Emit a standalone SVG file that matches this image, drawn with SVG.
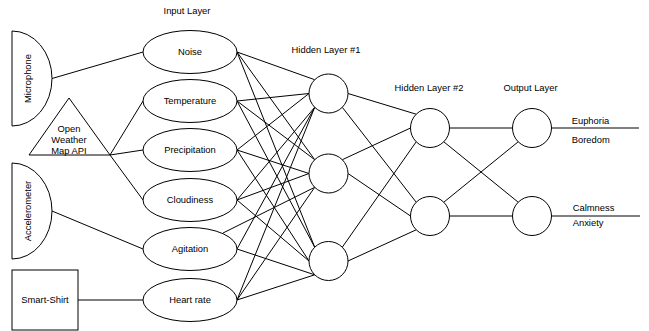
<svg xmlns="http://www.w3.org/2000/svg" width="649" height="331" viewBox="0 0 649 331">
<style>
.s{fill:#fff;stroke:#000;stroke-width:1}
.t{font-family:"Liberation Sans",Arial,sans-serif;font-size:9.4px;fill:#000;text-anchor:middle}
.l{font-family:"Liberation Sans",Arial,sans-serif;font-size:9.4px;fill:#000;text-anchor:start}
#edges line{stroke:#000;stroke-width:1}
</style>
<rect width="649" height="331" fill="#fff"/>
<g id="titles">
<text class="t" x="187" y="13.5">Input Layer</text>
<text class="t" x="326" y="52.5">Hidden Layer #1</text>
<text class="t" x="429" y="90.5">Hidden Layer #2</text>
<text class="t" x="530.5" y="90.5">Output Layer</text>
</g>
<g id="edges">
<line x1="52" y1="78.5" x2="143" y2="52"/>
<line x1="110" y1="155" x2="143" y2="101"/>
<line x1="110" y1="155" x2="143" y2="150"/>
<line x1="110" y1="155" x2="143" y2="200"/>
<line x1="52" y1="211" x2="143" y2="249"/>
<line x1="78" y1="300" x2="143" y2="300"/>
<!-- inputs to H1 c1 -->
<line x1="237" y1="52" x2="314.7" y2="79.7"/>
<line x1="237" y1="101" x2="309" y2="93.5"/>
<line x1="237" y1="150" x2="309" y2="93.5"/>
<line x1="237" y1="200" x2="314.7" y2="107.3"/>
<line x1="237" y1="249" x2="314.7" y2="107.3"/>
<line x1="237" y1="300" x2="314.7" y2="107.3"/>
<!-- inputs to H1 c2 -->
<line x1="237" y1="52" x2="314.7" y2="159.7"/>
<line x1="237" y1="101" x2="314.7" y2="159.7"/>
<line x1="237" y1="150" x2="309" y2="173.5"/>
<line x1="237" y1="200" x2="309" y2="173.5"/>
<line x1="223" y1="233" x2="314.7" y2="187.3"/>
<line x1="237" y1="300" x2="314.7" y2="187.3"/>
<!-- inputs to H1 c3 -->
<line x1="237" y1="52" x2="314.7" y2="247.2"/>
<line x1="237" y1="101" x2="314.7" y2="247.2"/>
<line x1="237" y1="150" x2="309" y2="261"/>
<line x1="237" y1="200" x2="309" y2="261"/>
<line x1="237" y1="249" x2="314.7" y2="274.8"/>
<line x1="237" y1="300" x2="314.7" y2="274.8"/>
<!-- H1 to H2 -->
<line x1="348" y1="93.5" x2="416.2" y2="114.2"/>
<line x1="342.3" y1="107.3" x2="416.2" y2="202.2"/>
<line x1="342.3" y1="159.7" x2="410.5" y2="128"/>
<line x1="348" y1="173.5" x2="410.5" y2="216"/>
<line x1="342.3" y1="247.2" x2="416.2" y2="141.8"/>
<line x1="348" y1="261" x2="416.2" y2="229.8"/>
<!-- H2 to output -->
<line x1="449.5" y1="128" x2="512.5" y2="128"/>
<line x1="443.8" y1="141.8" x2="518.2" y2="202.2"/>
<line x1="443.8" y1="202.2" x2="518.2" y2="141.8"/>
<line x1="449.5" y1="216" x2="512.5" y2="216"/>
<line x1="551.5" y1="128" x2="639" y2="128"/>
<line x1="551.5" y1="216" x2="640" y2="216"/>
</g>
<g id="microphone">
<path class="s" d="M12,31 A40,47.5 0 0 1 12,126 Z"/>
<text class="t" transform="translate(30.5,78.5) rotate(-90)">Microphone</text>
</g>
<g id="weather">
<path class="s" d="M69,98 L110,155 L29,155 Z"/>
<text class="t" x="69" y="131.5">Open</text>
<text class="t" x="69" y="142.5">Weather</text>
<text class="t" x="69" y="153.5">Map API</text>
</g>
<g id="accelerometer">
<path class="s" d="M12,163 A40,48 0 0 1 12,259 Z"/>
<text class="t" transform="translate(31,211) rotate(-90)">Accelerometer</text>
</g>
<g id="smartshirt">
<rect class="s" x="12" y="270" width="66" height="60"/>
<text class="t" x="45" y="303.3">Smart-Shirt</text>
</g>
<g id="noise"><ellipse class="s" cx="190" cy="52" rx="47" ry="21.5"/><text class="t" x="190" y="55.3">Noise</text></g>
<g id="temperature"><ellipse class="s" cx="190" cy="101" rx="47" ry="21.5"/><text class="t" x="190" y="104.3">Temperature</text></g>
<g id="precipitation"><ellipse class="s" cx="190" cy="150" rx="47" ry="21.5"/><text class="t" x="190" y="153.3">Precipitation</text></g>
<g id="cloudiness"><ellipse class="s" cx="190" cy="200" rx="47" ry="21.5"/><text class="t" x="190" y="203.3">Cloudiness</text></g>
<g id="agitation"><ellipse class="s" cx="190" cy="249" rx="47" ry="21.5"/><text class="t" x="190" y="252.3">Agitation</text></g>
<g id="heartrate"><ellipse class="s" cx="190" cy="300" rx="47" ry="21.5"/><text class="t" x="190" y="303.3">Heart rate</text></g>
<g id="h1a"><circle class="s" cx="328.5" cy="93.5" r="19.5"/></g>
<g id="h1b"><circle class="s" cx="328.5" cy="173.5" r="19.5"/></g>
<g id="h1c"><circle class="s" cx="328.5" cy="261" r="19.5"/></g>
<g id="h2a"><circle class="s" cx="430" cy="128" r="19.5"/></g>
<g id="h2b"><circle class="s" cx="430" cy="216" r="19.5"/></g>
<g id="o1"><circle class="s" cx="532" cy="128" r="19.5"/></g>
<g id="o2"><circle class="s" cx="532" cy="216" r="19.5"/></g>
<g id="outlabels">
<text class="l" x="571.7" y="123.5">Euphoria</text>
<text class="l" x="571.7" y="142.5">Boredom</text>
<text class="l" x="572.7" y="210.8">Calmness</text>
<text class="l" x="572.7" y="226">Anxiety</text>
</g>
</svg>
